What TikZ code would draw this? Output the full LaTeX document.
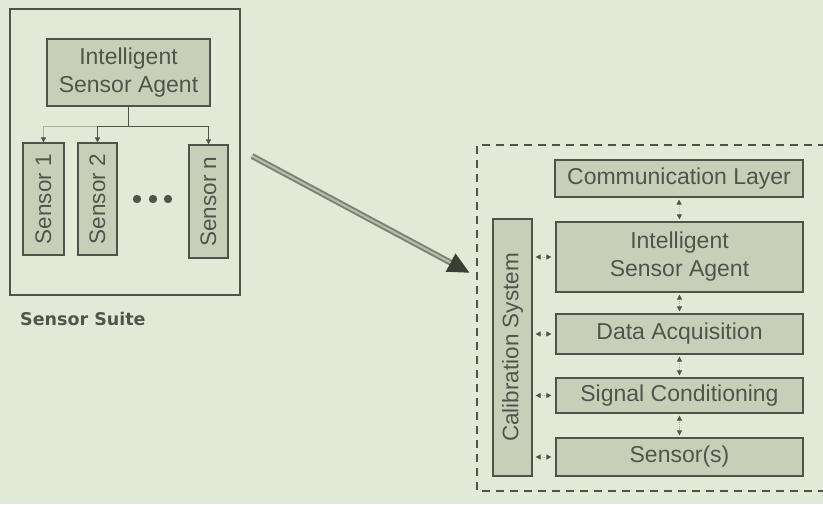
\documentclass[tikz,border=0pt]{standalone}
\usepackage{fontspec}
\setmainfont{Liberation Sans}
\newfontfamily\suitefont{DejaVu Sans}
\usetikzlibrary{arrows.meta}
\definecolor{bgc}{HTML}{E3E9D7}
\definecolor{boxc}{HTML}{C8CFB9}
\definecolor{linec}{HTML}{4F544A}
\definecolor{txtc}{HTML}{50554B}
\definecolor{faintc}{HTML}{A9AF9D}
\definecolor{arrowc}{HTML}{7D8275}
\definecolor{arrowin}{HTML}{B9BEAC}
\definecolor{headc}{HTML}{3A3E36}
\begin{document}
\begin{tikzpicture}[x=1pt,y=-1pt,
  blk/.style={draw=linec, line width=1.2pt, fill=boxc, text=txtc, inner sep=0pt,
    font=\fontsize{23}{28}\selectfont, align=center},
  vblk/.style={blk, font=\fontsize{22.5}{27}\selectfont},
  frame/.style={draw=linec, line width=1.6pt},
  tree/.style={draw=linec, line width=0.9pt, -{Triangle[length=5pt,width=5pt]}},
  faintree/.style={draw=faintc, line width=0.9pt, -{Triangle[length=5pt,width=5pt,color=linec]}},
  biarrow/.style={draw=faintc, line width=0.8pt, densely dotted,
    {Triangle[length=5pt,width=5pt,color=linec]}-{Triangle[length=5pt,width=5pt,color=linec]}},
  dashframe/.style={draw=linec, line width=1.3pt, dash pattern=on 8pt off 6pt},
  dotc/.style={fill=linec, draw=none}
]
\fill[bgc] (0,0) rectangle (823,504);
\useasboundingbox (0,0) rectangle (823,504);

% ---------- left: sensor suite ----------
\node[frame, minimum width=230pt, minimum height=286pt, inner sep=0pt] (suite) at (125,152) {};
\node[blk, minimum width=163pt, minimum height=67pt] (lisa) at (128.5,72.5) {Intelligent\\Sensor Agent};
\node[vblk, minimum width=41pt, minimum height=112pt] (s1) at (43.5,199) {\rotatebox{90}{Sensor 1}};
\node[vblk, minimum width=39pt, minimum height=112pt] (s2) at (97.5,199) {\rotatebox{90}{Sensor 2}};
\node[vblk, minimum width=39pt, minimum height=113pt] (sn) at (208.5,201.5) {\rotatebox{90}{Sensor n}};
\coordinate (j) at (128.5,126);
\draw[draw=linec, line width=0.9pt] (lisa.south) -- (j);
\draw[faintree] (j) -| (s1.north);
\draw[tree] (j) -| (s2.north);
\draw[tree] (j) -| (sn.north);
\fill[dotc] (137,199) circle (4.2);
\fill[dotc] (153,199) circle (4.2);
\fill[dotc] (168,199) circle (4.2);
\node[anchor=base west, inner sep=0pt, text=txtc, font=\suitefont\bfseries\fontsize{17.5}{20}\selectfont] (suitelabel) at (20,325) {Sensor Suite};

% ---------- big arrow ----------
\coordinate (astart) at (252,156);
\coordinate (aend) at (470,273);
\draw[line width=6pt, draw=arrowc, -{Triangle[length=22pt,width=19pt,color=headc]}] (astart) -- (aend);
\draw[line width=2pt, draw=arrowin, shorten >=22pt] (astart) -- (aend);

% ---------- right: detail ----------
\coordinate (dtr) at (826,145);
\coordinate (dtl) at (477,145);
\coordinate (dbl) at (477,491);
\coordinate (dbr) at (826,491);
\draw[dashframe] (dtr) -- (dtl) -- (dbl) -- (dbr);

\node[blk, minimum width=248pt, minimum height=37pt] (comm) at (679,178.5) {Communication Layer};
\node[blk, minimum width=247pt, minimum height=70pt] (risa) at (679.5,257) {Intelligent\\Sensor Agent};
\node[blk, minimum width=247pt, minimum height=40pt] (daq) at (679.5,334) {Data Acquisition};
\node[blk, minimum width=247pt, minimum height=35pt] (sig) at (679.5,395.5) {Signal Conditioning};
\node[blk, minimum width=247pt, minimum height=38pt] (sens) at (679.5,457) {Sensor(s)};
\node[vblk, minimum width=39pt, minimum height=257pt] (calib) at (512.5,347.5) {\rotatebox{90}{Calibration System}};

\draw[biarrow, shorten <=2pt, shorten >=2pt] (comm.south) -- (risa.north);
\draw[biarrow, shorten <=2pt, shorten >=2pt] (risa.south) -- (daq.north);
\draw[biarrow, shorten <=2pt, shorten >=2pt] (daq.south) -- (sig.north);
\draw[biarrow, shorten <=2pt, shorten >=2pt] (sig.south) -- (sens.north);

\draw[biarrow, shorten <=3pt, shorten >=4pt] (calib.east |- risa.west) -- (risa.west);
\draw[biarrow, shorten <=3pt, shorten >=4pt] (calib.east |- daq.west) -- (daq.west);
\draw[biarrow, shorten <=3pt, shorten >=4pt] (calib.east |- sig.west) -- (sig.west);
\draw[biarrow, shorten <=3pt, shorten >=4pt] (calib.east |- sens.west) -- (sens.west);
\end{tikzpicture}
\end{document}
